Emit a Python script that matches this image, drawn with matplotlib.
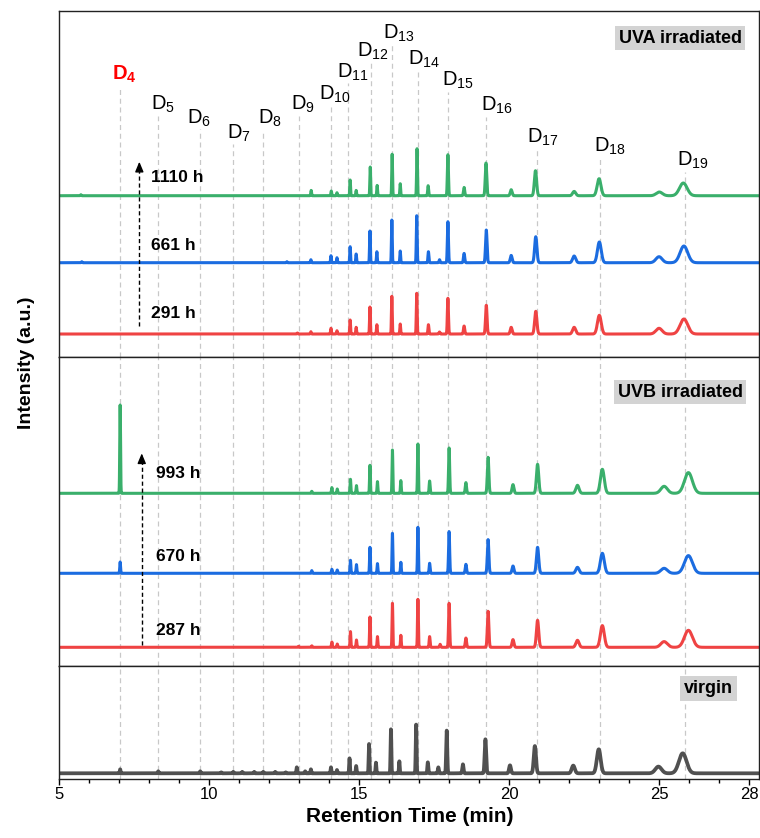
import numpy as np
import matplotlib
matplotlib.use("Agg")
import matplotlib.pyplot as plt
from matplotlib.ticker import MultipleLocator

plt.rcParams['font.family'] = ['Liberation Sans', 'DejaVu Sans']
plt.rcParams['mathtext.fontset'] = 'custom'
plt.rcParams['mathtext.rm'] = 'Liberation Sans'
plt.rcParams['mathtext.bf'] = 'Liberation Sans:bold'
plt.rcParams['mathtext.it'] = 'Liberation Sans:italic'

# siloxane components D4..D19, retention times (min)
comp_names = ['4', '5', '6', '7', '8', '9', '10', '11', '12', '13', '14', '15', '16', '17', '18', '19']
comp_rt = [7.02, 8.28, 9.69, 10.79, 11.80, 12.99, 14.06, 14.62, 15.39, 16.09,
           16.95, 17.95, 19.24, 20.92, 23.03, 25.88]

# peak tables (rt in min, height in a.u.)
uva_291_rt = [12.94, 13.39, 14.06, 14.26, 14.70, 14.90, 15.36, 15.59, 16.09, 16.37, 16.92,
              17.31, 17.68, 17.96, 18.50, 19.24, 20.07, 20.89, 22.17, 23.01, 25.00, 25.83]
uva_291_h = [1.0, 2.3, 5.7, 3.3, 14.0, 6.7, 27.0, 9.3, 37.7, 10.0, 40.7,
             9.3, 2.0, 35.7, 8.0, 28.7, 6.7, 22.7, 6.7, 18.7, 5.7, 15.0]
uva_661_rt = [5.75, 12.59, 13.39, 14.06, 14.26, 14.70, 14.90, 15.36, 15.59, 16.09, 16.37, 16.92,
              17.31, 17.68, 17.96, 18.50, 19.24, 20.07, 20.89, 22.17, 23.01, 25.00, 25.83]
uva_661_h = [1.0, 1.0, 3.0, 7.0, 5.0, 16.0, 8.7, 31.7, 11.0, 42.7, 11.7, 47.0,
             11.0, 3.0, 41.0, 9.3, 32.7, 7.3, 26.0, 6.7, 20.7, 6.0, 16.7]
uva_1110_rt = [5.72, 13.40, 14.07, 14.26, 14.70, 14.90, 15.37, 15.60, 16.10, 16.37, 16.93,
               17.30, 17.96, 18.50, 19.23, 20.07, 20.88, 22.17, 23.00, 25.01, 25.81]
uva_1110_h = [1.0, 5.3, 4.7, 3.0, 15.7, 5.3, 28.7, 10.3, 41.5, 12.0, 47.0,
              10.0, 41.0, 8.3, 32.7, 6.0, 25.0, 4.3, 17.0, 3.7, 12.7]

uvb_287_rt = [12.98, 13.42, 14.09, 14.27, 14.71, 14.91, 15.36, 15.61, 16.11, 16.39, 16.96,
              17.35, 17.70, 18.00, 18.56, 19.30, 20.13, 20.95, 22.28, 23.11, 25.17, 25.98]
uvb_287_h = [1.0, 1.5, 5.3, 3.3, 15.7, 7.3, 30.3, 10.7, 44.0, 12.0, 48.0,
             10.7, 3.0, 44.0, 9.3, 36.0, 7.7, 27.0, 7.0, 21.7, 5.7, 17.0]
uvb_670_rt = [7.03, 13.42, 14.09, 14.27, 14.71, 14.91, 15.36, 15.61, 16.11, 16.39, 16.96,
              17.35, 18.00, 18.56, 19.30, 20.13, 20.95, 22.28, 23.11, 25.17, 25.98]
uvb_670_h = [11.3, 2.7, 4.0, 3.3, 13.0, 8.7, 26.0, 9.7, 40.0, 11.0, 46.0,
             10.0, 41.7, 9.0, 33.7, 7.3, 26.0, 6.0, 20.0, 5.0, 17.7]
uvb_993_rt = [7.03, 13.42, 14.09, 14.27, 14.71, 14.91, 15.36, 15.61, 16.11, 16.39, 16.96,
              17.35, 18.00, 18.56, 19.30, 20.13, 20.95, 22.28, 23.11, 25.17, 25.98]
uvb_993_h = [88.3, 2.0, 5.7, 4.3, 14.0, 7.7, 28.0, 11.7, 43.3, 12.7, 49.3,
             12.3, 45.3, 10.7, 36.0, 8.7, 29.0, 8.0, 24.0, 7.0, 20.7]

virgin_rt = [7.03, 8.30, 9.70, 10.40, 10.80, 11.10, 11.50, 11.80, 12.20, 12.55, 12.92, 13.20,
             13.39, 14.06, 14.26, 14.68, 14.90, 15.33, 15.56, 16.06, 16.34, 16.90, 17.29, 17.64,
             17.92, 18.46, 19.21, 20.03, 20.86, 22.14, 22.99, 24.98, 25.79]
virgin_h = [4.0, 2.0, 2.0, 1.0, 1.5, 1.5, 1.5, 1.5, 1.5, 1.0, 6.0, 2.0,
            4.0, 6.0, 3.3, 15.0, 7.3, 29.3, 10.7, 44.0, 12.0, 48.7, 11.0, 6.0,
            42.7, 9.0, 34.0, 8.0, 27.3, 7.7, 24.0, 6.7, 20.0]

GREEN = '#3aaf6b'
BLUE = '#1b6ce0'
RED = '#ef4343'
GRAY = '#505050'

t = np.arange(5, 28.36, 0.002)


def chromatogram(rts, hs):
    y = np.zeros_like(t)
    for c, h in zip(rts, hs):
        s = max(0.013, 0.014 * np.exp((c - 17) / 4.0))  # later peaks are broader
        y += h * np.exp(-0.5 * ((t - c) / s) ** 2)
    return y


fig = plt.figure(figsize=(7.6, 8.38), dpi=100)
gs = fig.add_gridspec(3, 1, height_ratios=[346.6, 308.4, 113.3], left=0.078, right=0.9993,
                      top=0.9872, bottom=0.0704, hspace=0)
ax1 = fig.add_subplot(gs[0])
ax2 = fig.add_subplot(gs[1], sharex=ax1)
ax3 = fig.add_subplot(gs[2], sharex=ax1)

ax1.set_ylim(0, 346.6)
ax2.set_ylim(0, 308.4)
ax3.set_ylim(0, 113.3)
ax1.set_xlim(5, 28.35)

for ax in (ax1, ax2, ax3):
    ax.set_yticks([])
    for sp in ax.spines.values():
        sp.set_linewidth(1.0)
        sp.set_color('#222222')

ax1.tick_params(axis='x', which='both', bottom=False, labelbottom=False)
ax2.tick_params(axis='x', which='both', bottom=False, labelbottom=False)

# traces
lw = 2.2
ax1.plot(t, 23.3 + chromatogram(uva_291_rt, uva_291_h), color=RED, lw=lw)
ax1.plot(t, 94.6 + chromatogram(uva_661_rt, uva_661_h), color=BLUE, lw=lw)
ax1.plot(t, 161.6 + chromatogram(uva_1110_rt, uva_1110_h), color=GREEN, lw=lw)

ax2.plot(t, 18.4 + chromatogram(uvb_287_rt, uvb_287_h), color=RED, lw=lw)
ax2.plot(t, 92.4 + chromatogram(uvb_670_rt, uvb_670_h), color=BLUE, lw=lw)
ax2.plot(t, 172.4 + chromatogram(uvb_993_rt, uvb_993_h), color=GREEN, lw=lw)

ax3.plot(t, 5.7 + chromatogram(virgin_rt, virgin_h), color=GRAY, lw=2.7)

# component guide lines and labels
label_x = [6.77, 8.06, 9.25, 10.58, 11.64, 12.72, 13.65, 14.27, 14.92, 15.79,
           16.64, 17.75, 19.06, 20.61, 22.83, 25.59]
label_y = [277.3, 247.3, 234, 219, 233.3, 247.3, 257.3, 280, 300.6, 318.3,
           293, 271.3, 246.3, 214.6, 205.6, 191.6]
dash = (0, (4, 3))
for name, rt, lx, ly in zip(comp_names, comp_rt, label_x, label_y):
    ax1.vlines(rt, 0, ly - 6, color='#c8c8c8', lw=0.9, linestyles=dash, zorder=0)
    ax2.axvline(rt, color='#c8c8c8', lw=0.9, ls=dash, zorder=0)
    ax3.axvline(rt, color='#c8c8c8', lw=0.9, ls=dash, zorder=0)
    if name == '4':
        ax1.text(lx, ly, r'$\mathbf{D_{%s}}$' % name, color='red', fontsize=14.5,
                 ha='left', va='baseline')
    else:
        ax1.text(lx, ly, r'$\mathrm{D_{%s}}$' % name, color='black', fontsize=14.5,
                 ha='left', va='baseline')

# exposure time labels
for ax, ys, labels in ((ax1, [180.3, 112.3, 44.3], ['1110 h', '661 h', '291 h']),
                       (ax2, [192.4, 109.7, 35.7], ['993 h', '670 h', '287 h'])):
    for y, lab in zip(ys, labels):
        ax.text(8.06 if ax is ax1 else 8.23, y, lab, fontsize=12.5, fontweight='bold',
                ha='left', va='center')

# dashed arrows
for ax, x, y0, y1 in ((ax1, 7.67, 31.3, 195.6), (ax2, 7.75, 20.7, 212.4)):
    ax.plot([x, x], [y0, y1 - 6], color='black', lw=1.0, ls=(0, (3, 2)))
    ax.annotate('', xy=(x, y1), xytext=(x, y1 - 8),
                arrowprops=dict(arrowstyle='-|>,head_length=0.6,head_width=0.25',
                                color='black', lw=1.0, shrinkA=0, shrinkB=0))

# panel tags
box = dict(boxstyle='square,pad=0.22', facecolor='#d3d3d3', edgecolor='none')
ax1.text(25.7, 319.3, 'UVA irradiated', fontsize=13, fontweight='bold', ha='center', va='center', bbox=box)
ax2.text(25.7, 273.7, 'UVB irradiated', fontsize=13, fontweight='bold', ha='center', va='center', bbox=box)
ax3.text(26.64, 90.7, 'virgin', fontsize=13, fontweight='bold', ha='center', va='center', bbox=box)

ax3.set_xticks([5, 10, 15, 20, 25, 28])
ax3.xaxis.set_minor_locator(MultipleLocator(1))
ax3.tick_params(axis='x', which='major', direction='out', length=4.5, width=1.0, labelsize=12, pad=1.5)
ax3.tick_params(axis='x', which='minor', direction='out', length=2.7, width=1.0)
ax3.set_xlabel('Retention Time (min)', fontsize=15, fontweight='bold', labelpad=3)

fig.text(0.035, 1 - 363 / 838, 'Intensity (a.u.)', rotation=90, fontsize=14, fontweight='bold',
         ha='center', va='center')

plt.savefig('out.png', dpi=100)
